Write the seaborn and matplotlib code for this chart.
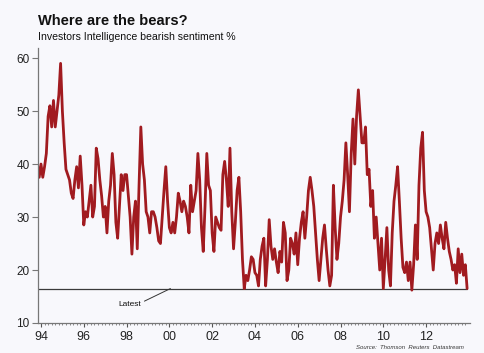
import numpy as np
import pandas as pd
import seaborn as sns
import matplotlib.pyplot as plt

# Investors Intelligence bearish %, monthly readings from Nov 1993 to Nov 2013
bears_94_97 = [40, 37.5, 40, 37.5, 39.5, 42, 49, 51, 47, 52, 47, 50, 53, 59, 50, 44,
               39, 38, 37, 34.5, 33.5, 37, 39.5, 35.5, 41.5, 36, 28.5, 31, 30, 33, 36, 30,
               32, 43, 41, 37, 34, 30, 32, 27, 33, 36, 42, 38, 29, 26, 32, 38, 35, 38]
bears_98_01 = [38, 34, 30, 23, 30, 33, 24, 36, 47, 40, 37, 31, 30, 27, 31, 31,
               30, 28, 25.5, 25, 30, 35, 39.5, 33, 28, 27, 29, 27, 30, 34.5, 33, 31,
               33, 32, 30, 27, 36, 31, 33, 35, 42, 37, 28, 23.5, 32, 42]
bears_02_05 = [36, 35, 27, 23.5, 30, 29, 28, 27.5, 38, 40.5, 37, 32, 43, 31, 24, 29,
               35, 37.5, 31, 22, 16.5, 19, 18, 20, 22.5, 22, 19.5, 19, 17, 22, 24.5, 26,
               17, 22, 29.5, 24.5, 22, 24, 21.5, 19.5, 23.5, 21.5, 29, 27, 18, 20, 26, 25]
bears_06_09 = [23, 27, 21, 26, 29, 31, 26, 30, 35, 37.5, 35, 32, 27, 22, 18, 22,
               26, 28.5, 24, 20, 17, 19, 36, 28, 22, 25, 30, 33, 37, 44, 38, 31,
               42, 48.5, 40, 49, 54, 49, 44, 44, 47, 38, 39, 32, 35, 26, 30, 25,
               20, 26, 16.5]
bears_10_13 = [22, 28, 20, 17, 27, 33, 36, 39.5, 33, 26, 20.5, 19.5, 21.5, 18, 21.5, 16.2,
               21, 28.5, 22, 36, 43, 46, 35, 31, 30, 28, 24, 20, 25, 27, 25, 28.5,
               26, 24, 29, 26, 23.5, 22, 20, 21, 17.5, 24, 19.5, 23, 19, 21, 16.5]

values = bears_94_97 + bears_98_01 + bears_02_05 + bears_06_09 + bears_10_13
dates = pd.date_range('1993-11-01', periods=len(values), freq='MS')
df = pd.DataFrame({'year': dates.year + (dates.month - 1) / 12, 'bears': values})

year_ticks = list(range(1994, 2013, 2))
year_labels = [f"{y % 100:02d}" for y in year_ticks]

bg = '#F8F8FC'
red = '#A11B20'

sns.set_theme(style='white')
plt.rcParams['font.family'] = ['Liberation Sans', 'DejaVu Sans']

fig = plt.figure(figsize=(4.84, 3.53), dpi=100, facecolor=bg)
ax = fig.add_axes([0.0785, 0.085, 0.8925, 0.779])
ax.set_facecolor(bg)

latest = df['bears'].iloc[-1]
ax.plot([1993.86, df['year'].iloc[-1]], [latest, latest], color='#3A3A3A', lw=0.9, zorder=1)
sns.lineplot(data=df, x='year', y='bears', color=red, lw=2.0, ax=ax, zorder=2)

ax.set_xlim(1993.86, 2014.05)
ax.set_ylim(10, 61.9)
ax.set_xticks(year_ticks)
ax.set_xticklabels(year_labels, fontsize=9, color='#222222')
ax.set_xticks(np.arange(1994, 2014, 1 / 6), minor=True)
ax.set_yticks([10, 20, 30, 40, 50, 60])
ax.tick_params(axis='y', labelsize=8.5, labelcolor='#222222', direction='out', length=4,
               width=0.8, color='#777777', left=True, pad=2)
ax.tick_params(axis='x', which='major', direction='out', length=3, width=0.8,
               color='#555555', bottom=True, pad=3)
ax.tick_params(axis='x', which='minor', direction='out', length=1.5, width=0.6,
               color='#777777', bottom=True)
ax.set_xlabel('')
ax.set_ylabel('')
for side in ['top', 'right']:
    ax.spines[side].set_visible(False)
for side in ['left', 'bottom']:
    ax.spines[side].set_color('#777777')
    ax.spines[side].set_linewidth(0.9)

ax.annotate('Latest', xy=(2000.05, latest), xytext=(1998.15, 13.4), fontsize=6,
            ha='center', va='center', color='#111111',
            arrowprops=dict(arrowstyle='-', color='#333333', lw=0.7,
                            relpos=(1.05, 0.9), shrinkA=0, shrinkB=0))

fig.text(0.078, 0.93, 'Where are the bears?', fontsize=10.5, fontweight='bold', color='#111111')
fig.text(0.078, 0.888, 'Investors Intelligence bearish sentiment %', fontsize=7.6, color='#111111')
fig.text(0.958, 0.012, 'Source:  Thomson  Reuters  Datastream', fontsize=4.3, style='italic',
         ha='right', color='#333333')

fig.savefig('out.png', dpi=100, facecolor=bg)
